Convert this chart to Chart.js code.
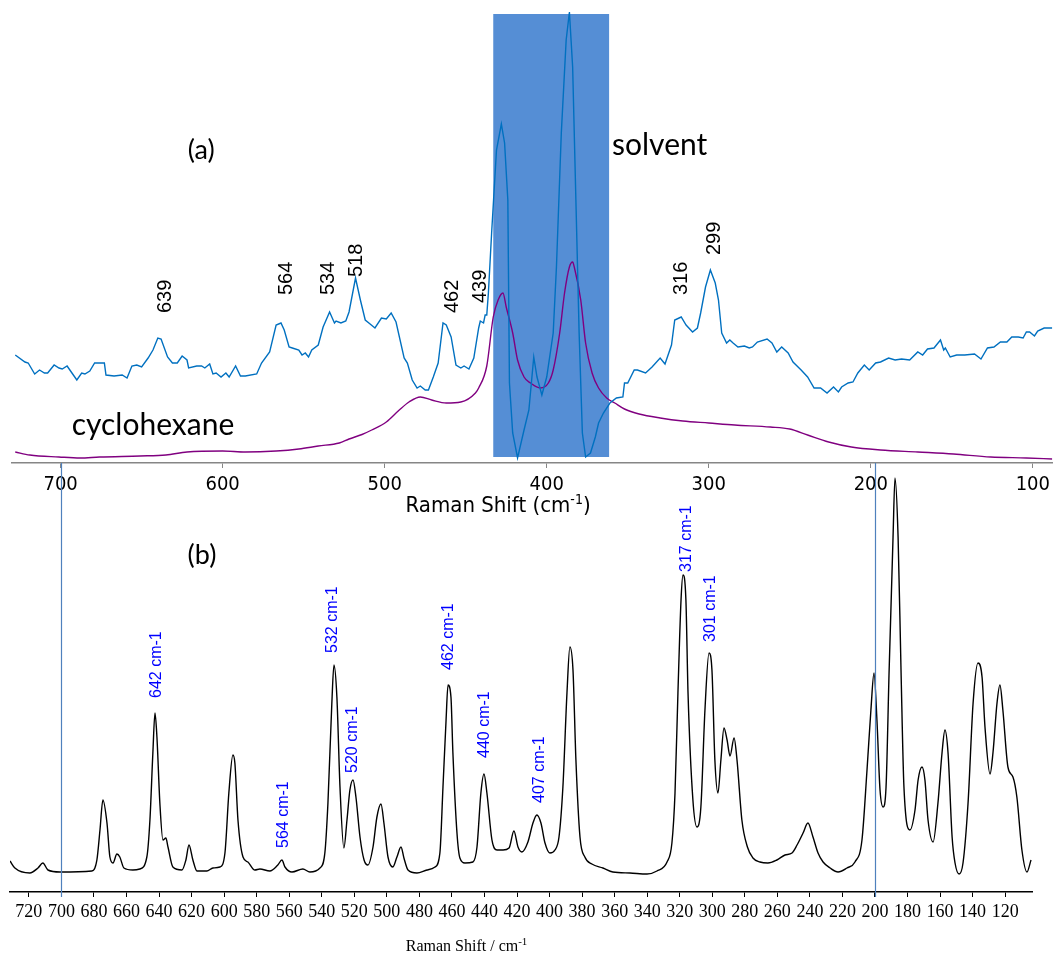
<!DOCTYPE html>
<html>
<head>
<meta charset="utf-8">
<script src="https://cdn.jsdelivr.net/npm/chart.js@4.4.1/dist/chart.umd.min.js"></script>
<style>
  body { margin: 0; background: #fff; }
  #wrap { position: relative; width: 1055px; height: 954px; }
  canvas { position: absolute; left: 0; }
  #topChart { top: 0; }
  #botChart { top: 463px; }
</style>
</head>
<body>
<div id="wrap">
  <canvas id="topChart" width="1055" height="530"></canvas>
  <canvas id="botChart" width="1055" height="491"></canvas>
</div>
<script>
// ---- (a) sample spectrum, wavenumber (cm-1) / intensity (a.u.)
const sampleW = [728,722,720,716,713,710,708,704,701,699,696,693,690,687,685,682,679,673,672,667,
  662,659,656,653,650,646,643,640,638,634,631,628,625,622,621,616,613,611,608,606,
  604,601,598,596,592,589,586,579,576,571,567,564,562,559,557,553,551,549,547,545,
  541,538,534,531,530,527,524,522,518,515,512,509,506,502,499,496,493,488,486,483,
  480,478,475,473,470,467,464,462,459,456,453,451,448,445,442,441,439,438,437,436,
  434,431,428,426,424,423,421,418,414,411,408,406,403,400,396,394,391,388,386,384,
  382,380,378,376,373,370,368,365,361,357,353,352,350,346,344,339,335,330,327,323,
  321,317,314,310,307,305,302,299,296,294,292,289,287,285,282,278,275,273,270,264,
  261,258,255,251,248,243,239,235,231,227,223,220,218,214,211,208,204,201,197,194,
  189,185,181,176,171,168,165,161,157,155,154,151,147,142,136,132,128,124,120,116,
  113,109,106,104,102,99,97,93,88];
const sampleI = [108,101,100,89,93,90,90,98,95,94,97,90,83,90,89,92,100,100,88,87,
  88,85,97,98,96,105,113,125,124,106,100,100,107,103,95,97,97,95,99,89,
  90,86,90,86,97,87,87,89,100,111,138,140,133,116,115,113,108,110,106,113,
  118,136,151,140,142,140,142,151,185,163,143,139,135,145,144,150,141,105,100,83,
  75,77,73,73,86,100,140,138,126,98,95,97,94,105,135,142,140,148,148,170,
  230,313,339,320,263,80,30,5,33,53,106,86,68,86,130,196,330,423,451,396,
  263,130,30,6,10,26,40,50,60,65,66,80,80,93,93,90,96,105,99,118,
  143,146,138,131,135,150,176,193,180,163,130,120,123,120,116,117,115,116,121,124,
  120,111,116,110,101,93,86,75,75,70,76,71,76,80,81,90,98,93,100,101,
  105,103,104,103,111,108,114,115,123,113,115,106,108,108,109,104,115,116,121,121,
  126,126,125,131,131,127,132,135,135];

// ---- (a) cyclohexane reference
const cycloW = [728,719,701,688,676,651,635,622,600,586,567,553,541,528,522,514,508,499,491,485,
  478,471,462,453,444,442,437,433,430,427,425,421,418,414,410,404,399,396,392,389,
  386,384,383,379,376,372,368,363,358,352,343,330,316,300,284,262,250,239,226,212,
  194,171,149,126,104,88];
const cycloI = [11,8,6,5,6,7,8,11,12,11,12,14,17,20,24,28.5,33,41,53,61,
  66,63,60,61,70,75,97,146,163,170,156,130,103,86,80,75,80,93,130,170,
  196,201,196,163,120,90,75,65,60,54,49,45,42,40,38,36,34,28,21,16,
  13,11,9,6,5,4];

const topTicks = [700,600,500,400,300,200,100];
const solventBand = [433, 361.5];
const solventLevel = [6, 449];
const topPeakText = ['639','564','534','518','462','439','316','299'];
const topPeakW = [635.4,560.3,534.5,517.2,458.2,440.9,316.6,296.3];
const topPeakI = [150,168,168,186,150,160,168,208];

// ---- (b) spectrum
const botW = [731.6,728.6,719.4,714.4,711.4,708.3,700.9,681.3,678.2,676.3,674.5,672.0,670.2,668.3,665.9,664.1,661.6,656.1,651.8,647.5,
  645.6,643.8,642.5,641.3,639.5,637.6,635.8,634.5,631.5,625.9,623.5,621.6,619.2,616.7,610.6,606.9,602.6,599.5,597.1,594.6,
  593.4,591.5,588.4,585.4,581.1,578.0,571.9,567.0,564.5,562.6,558.3,551.6,547.3,541.1,538.1,536.2,533.8,532.5,530.7,528.8,
  526.4,524.5,522.7,520.8,519.0,516.5,514.0,511.6,508.5,506.1,503.6,501.8,499.3,496.3,493.8,491.3,489.5,487.0,481.5,475.3,
  470.4,467.4,465.5,463.6,462.4,460.6,459.4,456.9,455.1,452.0,447.1,444.6,442.2,440.3,438.5,435.4,432.3,428.6,424.9,421.9,
  419.4,417.0,413.3,410.2,407.8,405.3,402.8,399.8,396.7,394.2,391.8,389.3,387.5,385.6,383.8,381.3,378.3,374.0,367.2,361.1,
  350.6,340.1,334.0,327.8,324.8,322.9,321.1,319.2,318.0,316.2,314.9,311.9,309.4,307.0,304.5,302.0,300.2,298.4,296.5,294.7,
  292.8,290.9,289.1,286.6,284.8,281.8,278.4,275.0,270.7,265.8,260.3,255.3,251.0,247.9,244.2,241.2,238.1,235.0,231.9,227.6,
  222.7,217.2,212.3,208.0,204.9,202.5,200.6,198.8,196.9,195.0,193.2,191.3,188.9,187.7,185.8,184.0,182.2,178.5,175.4,173.5,
  171.1,169.3,167.4,164.3,161.3,158.8,157.0,155.1,152.6,150.8,148.3,145.9,142.8,139.7,136.7,134.2,132.4,129.3,127.5,125.0,
  123.2,121.4,118.3,115.2,112.8,109.7,106.6,104.1];
const botI = [31,24,19,24,29,22,20,21,32,62,92,69,35,29,38,35,24,22,23,35,
  72,139,179,155,89,52,54,45,25,22,32,47,32,21,21,24,25,39,99,137,
  129,72,35,30,22,23,21,27,32,25,20,23,20,24,39,89,189,227,195,105,
  44,72,102,112,95,55,32,27,45,75,88,69,35,25,35,45,34,22,19,22,
  25,39,105,172,207,195,139,59,34,29,30,45,99,118,99,52,42,42,44,61,
  45,40,50,69,77,69,49,39,42,55,105,199,245,222,132,55,35,28,24,20,
  19,18,21,30,49,99,199,292,317,292,199,92,65,85,182,239,222,132,99,132,
  164,152,136,154,132,72,45,34,30,29,32,37,39,47,59,69,55,39,30,24,
  20,24,30,52,122,182,219,172,102,85,105,222,355,414,355,222,105,62,82,112,
  125,112,72,50,89,139,162,139,55,29,18,29,89,189,229,215,165,118,139,189,
  207,182,125,115,95,42,20,32];

const botTicks = [720,700,680,660,640,620,600,580,560,540,520,500,480,460,440,420,400,380,360,340,
  320,300,280,260,240,220,200,180,160,140,120];
const markerLines = [700, 200];
const botPeakText = ['642 cm-1','564 cm-1','532 cm-1','520 cm-1','462 cm-1','440 cm-1','407 cm-1','317 cm-1','301 cm-1'];
const botPeakW = [641.3,563.3,533.1,520.8,461.8,439.7,405.9,315.6,300.8];
const botPeakI = [194,44,239,119,222,134,89,320,250];

const NARROW = '"Liberation Sans Narrow", "DejaVu Sans Condensed", "Liberation Sans", sans-serif';
const CAL = 'Lato, "Open Sans", sans-serif';
const SERIF = '"Liberation Serif", "Times New Roman", serif';

function vText(ctx, txt, x, y) {
  ctx.save();
  ctx.translate(x, y);
  ctx.rotate(-Math.PI / 2);
  ctx.textAlign = 'left';
  ctx.textBaseline = 'middle';
  ctx.fillText(txt, 0, 0);
  ctx.restore();
}

// text pieces [str, font, raise]; centred on cx
function supTitle(ctx, parts, cx, cy) {
  let total = 0;
  parts.forEach(p => { ctx.font = p[1]; p.w = ctx.measureText(p[0]).width; total += p.w; });
  let x = cx - total / 2;
  ctx.textAlign = 'left';
  ctx.textBaseline = 'middle';
  ctx.fillStyle = '#000';
  parts.forEach(p => { ctx.font = p[1]; ctx.fillText(p[0], x, cy - p[2]); x += p.w; });
}

const topDecor = {
  id: 'topDecor',
  beforeDatasetsDraw(chart) {
    const { ctx, scales: { x, y } } = chart;
    const x0 = x.getPixelForValue(solventBand[0]), x1 = x.getPixelForValue(solventBand[1]);
    const y0 = y.getPixelForValue(solventLevel[1]), y1 = y.getPixelForValue(solventLevel[0]);
    ctx.save();
    ctx.fillStyle = '#558ED5';
    ctx.fillRect(x0, y0, x1 - x0, y1 - y0);
    ctx.restore();
  },
  afterDraw(chart) {
    const { ctx, chartArea, scales: { x, y } } = chart;
    ctx.save();
    ctx.fillStyle = '#000';
    ctx.font = '20px "Liberation Sans", Arial, sans-serif';
    topPeakText.forEach((t, i) => vText(ctx, t, x.getPixelForValue(topPeakW[i]), y.getPixelForValue(topPeakI[i])));

    ctx.font = '27px ' + CAL;
    ctx.textAlign = 'center';
    ctx.textBaseline = 'middle';
    ctx.fillText('(a)', x.getPixelForValue(613.2), y.getPixelForValue(313));
    ctx.font = '30px ' + CAL;
    ctx.textAlign = 'left';
    ctx.fillText('solvent', x.getPixelForValue(359.7), y.getPixelForValue(318));
    ctx.fillText('cyclohexane', x.getPixelForValue(693.2), y.getPixelForValue(38));

    supTitle(ctx, [
      ['Raman Shift (cm', '22px ' + NARROW, 0],
      ['-1', '14px ' + NARROW, 6],
      [')', '22px ' + NARROW, 0]
    ], x.getPixelForValue(430), chartArea.bottom + 43);
    ctx.restore();
  }
};

const botDecor = {
  id: 'botDecor',
  afterDraw(chart) {
    const { ctx, chartArea, scales: { x, y } } = chart;
    ctx.save();
    ctx.strokeStyle = '#4F81BD';
    ctx.lineWidth = 1.2;
    markerLines.forEach(v => {
      const px = Math.round(x.getPixelForValue(v)) + 0.5;
      ctx.beginPath();
      ctx.moveTo(px, 0);
      ctx.lineTo(px, chartArea.bottom + 5);
      ctx.stroke();
    });

    ctx.fillStyle = '#0000FF';
    ctx.font = '16px "Liberation Sans", Arial, sans-serif';
    botPeakText.forEach((t, i) => vText(ctx, t, x.getPixelForValue(botPeakW[i]), y.getPixelForValue(botPeakI[i])));

    ctx.fillStyle = '#000';
    ctx.font = '27px ' + CAL;
    ctx.textAlign = 'center';
    ctx.textBaseline = 'middle';
    ctx.fillText('(b)', x.getPixelForValue(613.6), y.getPixelForValue(337));

    supTitle(ctx, [
      ['Raman Shift / cm', '16px ' + SERIF, 0],
      ['-1', '11px ' + SERIF, 5]
    ], x.getPixelForValue(451), chartArea.bottom + 55);
    ctx.restore();
  }
};

new Chart(document.getElementById('topChart'), {
  type: 'line',
  data: {
    datasets: [
      { data: sampleW.map((w, i) => ({ x: w, y: sampleI[i] })), borderColor: '#0070C0', borderWidth: 1.4, pointRadius: 0, tension: 0 },
      { data: cycloW.map((w, i) => ({ x: w, y: cycloI[i] })), borderColor: '#800080', borderWidth: 1.4, pointRadius: 0, cubicInterpolationMode: 'monotone' }
    ]
  },
  options: {
    responsive: false,
    animation: false,
    layout: { padding: { left: 12, right: 0, top: 10, bottom: 0 } },
    plugins: { legend: { display: false }, tooltip: { enabled: false } },
    scales: {
      x: {
        type: 'linear', reverse: true, min: 88, max: 730,
        afterBuildTicks: s => { s.ticks = topTicks.map(v => ({ value: v })); },
        afterFit: s => { s.height = 67; },
        grid: { drawOnChartArea: false, tickLength: 5, color: '#868686' },
        border: { color: '#868686', width: 1.5 },
        ticks: { font: { family: NARROW, size: 20 }, color: '#000', padding: 5, maxRotation: 0, autoSkip: false }
      },
      y: { display: false, min: 0, max: 453 }
    }
  },
  plugins: [topDecor]
});

new Chart(document.getElementById('botChart'), {
  type: 'line',
  data: {
    datasets: [
      { data: botW.map((w, i) => ({ x: w, y: botI[i] })), borderColor: '#000', borderWidth: 1.4, pointRadius: 0, cubicInterpolationMode: 'monotone' }
    ]
  },
  options: {
    responsive: false,
    animation: false,
    layout: { padding: { left: 10, right: 23, top: 0, bottom: 0 } },
    plugins: { legend: { display: false }, tooltip: { enabled: false } },
    scales: {
      x: {
        type: 'linear', reverse: true, min: 103.5, max: 731.6,
        afterBuildTicks: s => { s.ticks = botTicks.map(v => ({ value: v })); },
        afterFit: s => { s.height = 62; },
        grid: { drawOnChartArea: false, tickLength: 5, color: '#000' },
        border: { color: '#000', width: 1.5 },
        ticks: { font: { family: SERIF, size: 18 }, color: '#000', padding: 4, maxRotation: 0, autoSkip: false }
      },
      y: { display: false, min: 0, max: 429 }
    }
  },
  plugins: [botDecor]
});
</script>
</body>
</html>
